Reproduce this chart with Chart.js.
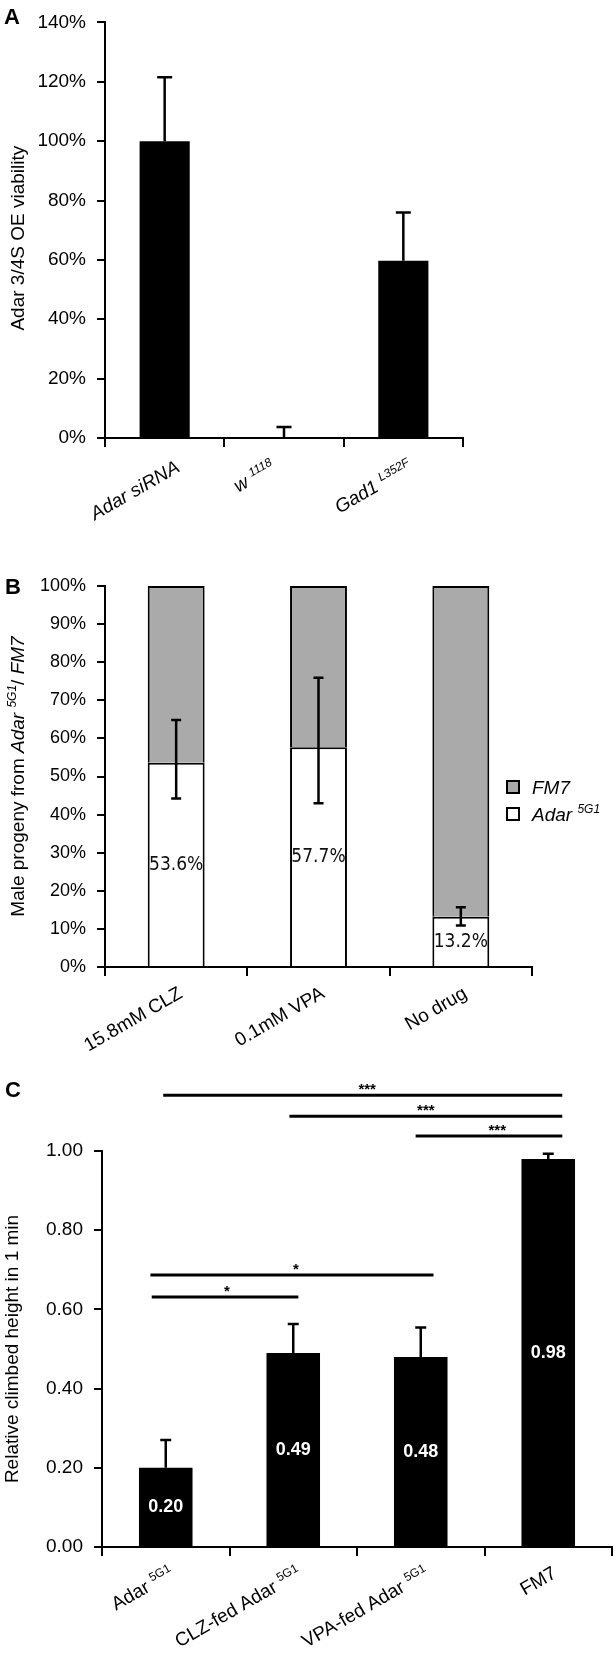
<!DOCTYPE html>
<html>
<head>
<meta charset="utf-8">
<script src="https://cdn.jsdelivr.net/npm/chart.js@4.4.1/dist/chart.umd.min.js"></script>
<style>
  body { margin: 0; background: #fff; }
  .wrap { position: relative; width: 616px; height: 1653px; }
  canvas { position: absolute; left: 0; }
</style>
</head>
<body>
<div class="wrap">
  <canvas id="chartA" width="616" height="540" style="top:0"></canvas>
  <canvas id="chartB" width="616" height="520" style="top:540px"></canvas>
  <canvas id="chartC" width="616" height="593" style="top:1060px"></canvas>
</div>
<script>
// Panel A - viability (one sided error bars)
// labels are lists of [text, flags]: i = italic, s = superscript, b = bold
const labelsA = [
  [['Adar siRNA', 'i']],
  [['w ', 'i'], ['1118', 'is']],
  [['Gad1 ', 'i'], ['L352F', 'is']]
];
const viabilityA = [100, 0, 59.7];
const errTopA = [121.5, 3.7, 76];
const ticksA = [0, 20, 40, 60, 80, 100, 120, 140];

// Panel B - stacked progeny percentages
const labelsB = ['15.8mM CLZ', '0.1mM VPA', 'No drug'];
const adarB = [53.6, 57.7, 13.2];
const fm7B = [46.4, 42.3, 86.8];
const errLowB = [44.2, 43.0, 10.9];
const errHighB = [64.8, 75.9, 15.7];
const ticksB = [0, 10, 20, 30, 40, 50, 60, 70, 80, 90, 100];
const legendB = [
  [['FM7', 'i']],
  [['Adar ', 'i'], ['5G1', 'is']]
];

// Panel C - climbing assay
const labelsC = [
  [['Adar ', ''], ['5G1', 's']],
  [['CLZ-fed Adar ', ''], ['5G1', 's']],
  [['VPA-fed Adar ', ''], ['5G1', 's']],
  [['FM7', '']]
];
const climbC = [0.20, 0.49, 0.48, 0.98];
const errTopC = [0.27, 0.563, 0.554, 0.993];
const ticksC = [0, 0.2, 0.4, 0.6, 0.8, 1.0];
// significance brackets (x in category units, y in data units)
const sigFromC = [-0.02, 0.97, 1.96, -0.12, -0.11];
const sigToC = [3.11, 3.11, 3.11, 2.10, 1.04];
const sigLevelC = [1.141, 1.088, 1.038, 0.687, 0.631];
const sigTextAtC = [1.58, 2.04, 2.60, 1.02, 0.48];
const sigMarkC = ['***', '***', '***', '*', '*'];

const SANS = '"Liberation Sans", Arial, sans-serif';
const NARROW = '"Liberation Sans Narrow", "DejaVu Sans Condensed", sans-serif';
const TILT = Math.PI / 6;

function segFont(flags, size) {
  const s = flags.includes('s') ? Math.round(size * 0.62) : size;
  return (flags.includes('i') ? 'italic ' : '') + (flags.includes('b') ? 'bold ' : '') + s + 'px ' + SANS;
}

function richWidth(ctx, segs, size) {
  let w = 0;
  segs.forEach(([t, f]) => { ctx.font = segFont(f, size); w += ctx.measureText(t).width; });
  return w;
}

function drawRich(ctx, segs, x, y, size, align, color) {
  const w = richWidth(ctx, segs, size);
  let cx = align === 'right' ? x - w : align === 'center' ? x - w / 2 : x;
  ctx.fillStyle = color || '#000';
  ctx.textAlign = 'left';
  ctx.textBaseline = 'alphabetic';
  segs.forEach(([t, f]) => {
    ctx.font = segFont(f, size);
    const up = f.includes('s') ? size * 0.38 : 0;
    ctx.fillText(t, cx, y - up);
    cx += ctx.measureText(t).width;
  });
}

// end of the text sits under the tick
function drawXLabels(chart, labels, size, dx, dy) {
  const { ctx, scales: { x }, chartArea } = chart;
  labels.forEach((segs, i) => {
    ctx.save();
    ctx.translate(x.getPixelForValue(i) + dx, chartArea.bottom + dy);
    ctx.rotate(-TILT);
    drawRich(ctx, segs, 0, size * 0.35, size, 'right');
    ctx.restore();
  });
}

// text turned around its middle, top kept at the same height
function drawXLabelsCentered(chart, labels, size, dx, dy) {
  const { ctx, scales: { x }, chartArea } = chart;
  labels.forEach((segs, i) => {
    const w = richWidth(ctx, segs, size);
    ctx.save();
    ctx.translate(x.getPixelForValue(i) + dx, chartArea.bottom + dy + w * Math.sin(TILT) / 2);
    ctx.rotate(-TILT);
    drawRich(ctx, segs, 0, size * 0.35, size, 'center');
    ctx.restore();
  });
}

function drawYTitle(chart, segs, cx, size, dy) {
  const { ctx, chartArea } = chart;
  ctx.save();
  ctx.translate(cx, (chartArea.top + chartArea.bottom) / 2 + dy);
  ctx.rotate(-Math.PI / 2);
  drawRich(ctx, segs, 0, size * 0.35, size, 'center');
  ctx.restore();
}

function drawLetter(ctx, letter, x, y) {
  ctx.save();
  ctx.font = 'bold 22px ' + SANS;
  ctx.fillStyle = '#000';
  ctx.textAlign = 'left';
  ctx.textBaseline = 'alphabetic';
  ctx.fillText(letter, x, y);
  ctx.restore();
}

function errorBar(ctx, x, yA, yB, cap, lw, bothCaps) {
  ctx.save();
  ctx.strokeStyle = '#000';
  ctx.lineWidth = lw;
  ctx.beginPath();
  ctx.moveTo(x, yA);
  ctx.lineTo(x, yB);
  ctx.moveTo(x - cap / 2, yB);
  ctx.lineTo(x + cap / 2, yB);
  if (bothCaps) {
    ctx.moveTo(x - cap / 2, yA);
    ctx.lineTo(x + cap / 2, yA);
  }
  ctx.stroke();
  ctx.restore();
}

function yScale(min, max, ticks, width, size, fmt) {
  return {
    min: min, max: max,
    afterBuildTicks: s => { s.ticks = ticks.map(v => ({ value: v })); },
    afterFit: s => { s.width = width; },
    border: { color: '#000', width: 2 },
    grid: { drawOnChartArea: false, drawTicks: true, tickLength: 8, color: '#000', lineWidth: 2 },
    ticks: { color: '#000', padding: 11, font: { family: SANS, size: size }, callback: fmt }
  };
}

function xScale(height, stacked) {
  return {
    stacked: stacked,
    afterFit: s => { s.height = height; },
    border: { color: '#000', width: 2 },
    grid: { drawOnChartArea: false, drawTicks: true, tickLength: 9, color: '#000', lineWidth: 2, offset: true },
    ticks: { display: false }
  };
}

const common = {
  responsive: false,
  animation: false,
  devicePixelRatio: 1,
  events: [],
  plugins: { legend: { display: false }, tooltip: { enabled: false } }
};

// ---------- Panel A ----------
new Chart(document.getElementById('chartA'), {
  type: 'bar',
  data: {
    labels: labelsA.map(l => l.map(s => s[0]).join('')),
    datasets: [{
      data: viabilityA,
      backgroundColor: '#000',
      categoryPercentage: 1,
      barPercentage: 0.42
    }]
  },
  options: {
    ...common,
    layout: { padding: { top: 17, right: 153, left: 0, bottom: 0 } },
    scales: {
      x: xScale(102, false),
      y: yScale(0, 140, ticksA, 105, 19, v => v + '%')
    }
  },
  plugins: [{
    id: 'panelA',
    afterDatasetsDraw(chart) {
      const { ctx, scales: { x, y } } = chart;
      viabilityA.forEach((v, i) => {
        errorBar(ctx, x.getPixelForValue(i), y.getPixelForValue(v), y.getPixelForValue(errTopA[i]), 15, 2.5, false);
      });
    },
    afterDraw(chart) {
      drawXLabelsCentered(chart, labelsA, 19, -30, 27);
      drawYTitle(chart, [['Adar 3/4S OE viability', '']], 17, 19, 8);
      drawLetter(chart.ctx, 'A', 4, 24);
    }
  }]
});

// ---------- Panel B ----------
new Chart(document.getElementById('chartB'), {
  type: 'bar',
  data: {
    labels: labelsB,
    datasets: [{
      label: 'Adar 5G1',
      data: adarB,
      backgroundColor: '#ffffff',
      borderColor: '#000',
      borderWidth: 2,
      categoryPercentage: 1,
      barPercentage: 0.4
    }, {
      label: 'FM7',
      data: fm7B,
      backgroundColor: '#aaaaaa',
      borderColor: '#000',
      borderWidth: 2,
      categoryPercentage: 1,
      barPercentage: 0.4
    }]
  },
  options: {
    ...common,
    layout: { padding: { top: 46, right: 84, left: 0, bottom: 0 } },
    scales: {
      x: xScale(93, true),
      y: { ...yScale(0, 100, ticksB, 105, 18, v => v + '%'), stacked: true }
    }
  },
  plugins: [{
    id: 'panelB',
    afterDatasetsDraw(chart) {
      const { ctx, scales: { x, y } } = chart;
      adarB.forEach((v, i) => {
        const px = x.getPixelForValue(i);
        ctx.save();
        ctx.font = '19px ' + NARROW;
        ctx.fillStyle = '#111';
        ctx.textAlign = 'center';
        ctx.textBaseline = 'middle';
        ctx.fillText(v.toFixed(1) + '%', px, y.getPixelForValue(v / 2));
        ctx.restore();
        errorBar(ctx, px, y.getPixelForValue(errLowB[i]), y.getPixelForValue(errHighB[i]), 10, 2.5, true);
      });
    },
    afterDraw(chart) {
      const { ctx, chartArea } = chart;
      drawXLabels(chart, labelsB.map(t => [[t, '']]), 19, 4, 24);
      drawYTitle(chart, [['Male progeny from ', ''], ['Adar ', 'i'], ['5G1', 'is'], ['/ ', ''], ['FM7', 'i']], 17, 19, 0);
      drawLetter(ctx, 'B', 5, 54);
      // legend, FM7 on top
      const fills = ['#aaaaaa', '#ffffff'];
      legendB.forEach((segs, k) => {
        const bx = chartArea.right - 25, by = chartArea.top + 195 + k * 27;
        ctx.save();
        ctx.fillStyle = fills[k];
        ctx.fillRect(bx, by, 12, 12);
        ctx.strokeStyle = '#000';
        ctx.lineWidth = 2;
        ctx.strokeRect(bx, by, 12, 12);
        ctx.restore();
        drawRich(ctx, segs, bx + 25, by + 6 + 19 * 0.35, 19, 'left');
      });
    }
  }]
});

// ---------- Panel C ----------
new Chart(document.getElementById('chartC'), {
  type: 'bar',
  data: {
    labels: labelsC.map(l => l.map(s => s[0]).join('')),
    datasets: [{
      data: climbC,
      backgroundColor: '#000',
      categoryPercentage: 1,
      barPercentage: 0.42
    }]
  },
  options: {
    ...common,
    layout: { padding: { top: 91, right: 4, left: 0, bottom: 0 } },
    scales: {
      x: xScale(106, false),
      y: yScale(0, 1, ticksC, 102, 19, v => v.toFixed(2))
    }
  },
  plugins: [{
    id: 'panelC',
    afterDatasetsDraw(chart) {
      const { ctx, scales: { x, y } } = chart;
      climbC.forEach((v, i) => {
        const px = x.getPixelForValue(i);
        errorBar(ctx, px, y.getPixelForValue(v), y.getPixelForValue(errTopC[i]), 11, 2.5, false);
        ctx.save();
        ctx.font = 'bold 18px ' + SANS;
        ctx.fillStyle = '#fff';
        ctx.textAlign = 'center';
        ctx.textBaseline = 'middle';
        ctx.fillText(v.toFixed(2), px, y.getPixelForValue(v / 2));
        ctx.restore();
      });
    },
    afterDraw(chart) {
      const { ctx, scales: { x, y } } = chart;
      const x0 = x.getPixelForValue(0), step = x.getPixelForValue(1) - x0;
      const px = u => x0 + u * step;
      sigLevelC.forEach((lv, k) => {
        const py = y.getPixelForValue(lv);
        ctx.save();
        ctx.strokeStyle = '#000';
        ctx.lineWidth = 3;
        ctx.beginPath();
        ctx.moveTo(px(sigFromC[k]), py);
        ctx.lineTo(px(sigToC[k]), py);
        ctx.stroke();
        ctx.font = 'bold 15px ' + SANS;
        ctx.fillStyle = '#000';
        ctx.textAlign = 'center';
        ctx.textBaseline = 'alphabetic';
        ctx.fillText(sigMarkC[k], px(sigTextAtC[k]), py - 1);
        ctx.restore();
      });
      drawXLabels(chart, labelsC, 19, 6, 24);
      drawYTitle(chart, [['Relative climbed height in 1 min', '']], 11, 19, 0);
      drawLetter(ctx, 'C', 5, 37);
    }
  }]
});
</script>
</body>
</html>
